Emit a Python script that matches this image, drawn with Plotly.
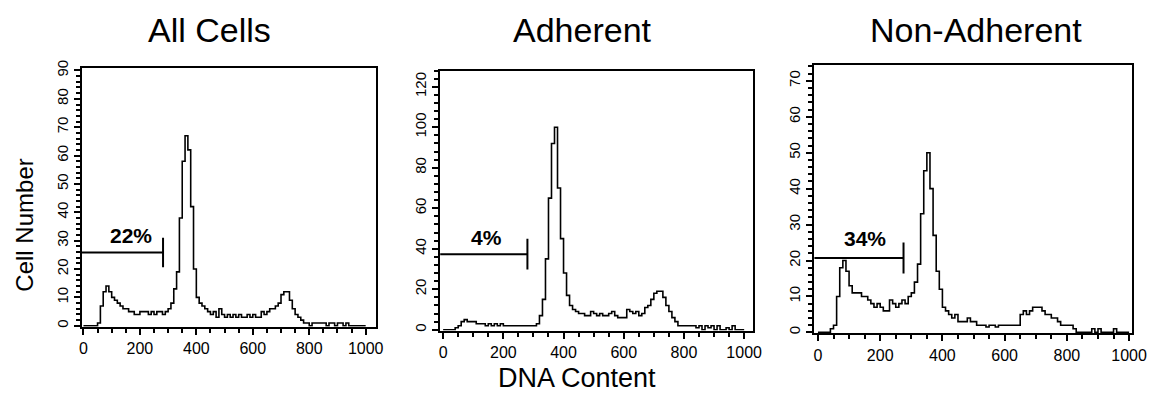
import plotly.graph_objects as go

# DNA content channel (bin start), 10-unit bins
dna = list(range(0, 1010, 10))

all_cells = [0,0,0,0,0,1,7,12,14,12,
             10,9,8,7,6,6,5,5,4,4,
             5,5,5,4,5,4,5,5,4,5,
             6,8,13,19,38,58,67,62,42,20,
             10,8,7,6,5,4,5,3,6,4,
             3,4,3,4,3,4,3,3,4,3,
             4,3,3,5,4,5,6,6,7,8,
             11,12,12,9,6,4,3,2,1,1,
             0,1,1,1,1,1,0,1,1,0,
             1,1,0,1,0,0,0,0,0,0,0]

adherent = [0,0,0,0,1,2,4,5,4,4,
            4,3,3,3,2,3,2,3,2,3,
            2,2,2,2,2,2,2,2,2,2,
            2,3,7,15,35,65,92,100,70,45,
            28,17,12,10,9,8,8,7,7,9,
            8,7,8,7,7,8,9,7,6,6,
            6,10,9,8,9,7,8,11,12,15,
            18,19,19,16,12,9,6,4,2,2,
            2,2,2,2,1,2,0,2,1,2,
            0,2,0,0,1,0,2,0,0,0,0]

non_adherent = [0,0,0,0,1,2,10,18,20,17,
                13,11,11,11,10,10,9,8,7,8,
                7,6,6,9,8,7,8,9,8,10,
                11,14,19,33,45,50,40,27,17,12,
                7,6,5,4,5,3,3,3,4,3,
                3,2,2,2,1.5,2,2,1.5,2,2,
                2,2,2,2,2,5,6,5,6,7,
                7,7,6,5,5,4,4,3,2,2,
                2,2,1,0,0,0,0,0,1,0,
                1,0,0,0,0,1,0,0,0,0,0]

panel_titles = ["All Cells", "Adherent", "Non-Adherent"]
gate_labels = ["22%", "4%", "34%"]
gate_end = [282, 280, 275]
gate_y = [25.8, 37.3, 20.7]
gate_half = [5.2, 7.6, 4.3]
gate_label_pos = [(169, 32.0), (145, 45.5), (150, 26.0)]

x_ranges = [[-6, 1037], [-10, 1030], [-12, 1010]]
y_ranges = [[-0.3, 91], [-0.4, 128], [-0.3, 74.5]]
y_dtick = [10, 20, 10]
y_minor = [2, 4, 2]

W, H = 1161, 399
boxes = [(80, 379, 61, 326), (444, 762, 64, 330), (824, 1147, 58, 333)]


def px(v):
    return v / W


def py(v):
    return 1 - v / H


FONT = "Liberation Sans, Arial, sans-serif"
fig = go.Figure()
series = [all_cells, adherent, non_adherent]

for i, s in enumerate(series):
    xa = "x" if i == 0 else f"x{i+1}"
    ya = "y" if i == 0 else f"y{i+1}"
    fig.add_trace(go.Scatter(x=dna, y=s, mode="lines", line=dict(shape="hv", color="black", width=1.6),
                             xaxis=xa, yaxis=ya, showlegend=False, hoverinfo="skip"))
    l, r, t, b = boxes[i]
    axis_common = dict(showline=True, linecolor="black", linewidth=2, mirror=True, showgrid=False,
                       zeroline=False, ticks="outside", tickcolor="black", tickwidth=2, ticklen=6)
    xkey = "xaxis" if i == 0 else f"xaxis{i+1}"
    ykey = "yaxis" if i == 0 else f"yaxis{i+1}"
    fig.update_layout({
        xkey: dict(axis_common, domain=[px(l), px(r)], range=x_ranges[i], tickmode="linear", tick0=0, dtick=200,
                   anchor=ya, tickfont=dict(family=FONT, size=16, color="black"),
                   minor=dict(dtick=50, tick0=0, ticks="outside", ticklen=4, tickcolor="black", tickwidth=2)),
        ykey: dict(axis_common, domain=[py(b), py(t)], range=y_ranges[i], tickmode="linear", tick0=0,
                   dtick=y_dtick[i], tickangle=-90, anchor=xa,
                   tickfont=dict(family=FONT, size=15, color="black"),
                   minor=dict(dtick=y_minor[i], tick0=0, ticks="outside", ticklen=4, tickcolor="black", tickwidth=1.5)),
    })
    # gate marker
    fig.add_shape(type="line", xref=xa, yref=ya, x0=x_ranges[i][0], x1=gate_end[i], y0=gate_y[i], y1=gate_y[i],
                  line=dict(color="black", width=2))
    fig.add_shape(type="line", xref=xa, yref=ya, x0=gate_end[i], x1=gate_end[i],
                  y0=gate_y[i] - gate_half[i], y1=gate_y[i] + gate_half[i], line=dict(color="black", width=2))
    fig.add_annotation(x=gate_label_pos[i][0], y=gate_label_pos[i][1], xref=xa, yref=ya, text=f"<b>{gate_labels[i]}</b>",
                       showarrow=False, font=dict(family=FONT, size=21, color="black"),
                       xanchor="center", yanchor="middle")

title_x = [210, 589, 988]
for i, t in enumerate(panel_titles):
    fig.add_annotation(x=px(title_x[i]), y=py(2), xref="paper", yref="paper", text=t, showarrow=False,
                       font=dict(family=FONT, size=34, color="black"), xanchor="center", yanchor="top",
                       borderpad=0)

fig.add_annotation(x=px(22), y=py(222), xref="paper", yref="paper", text="Cell Number", textangle=-90,
                   showarrow=False, font=dict(family=FONT, size=24, color="black"),
                   xanchor="center", yanchor="middle")
fig.add_annotation(x=px(583), y=py(379), xref="paper", yref="paper", text="DNA Content",
                   showarrow=False, font=dict(family=FONT, size=27, color="black"),
                   xanchor="center", yanchor="middle")

fig.update_layout(width=W, height=H, margin=dict(l=0, r=0, t=0, b=0), plot_bgcolor="white",
                  paper_bgcolor="white", showlegend=False)
fig.write_html("out.html", config={"displayModeBar": False},
               post_script="document.body.style.margin='0';document.body.style.overflow='hidden';")
